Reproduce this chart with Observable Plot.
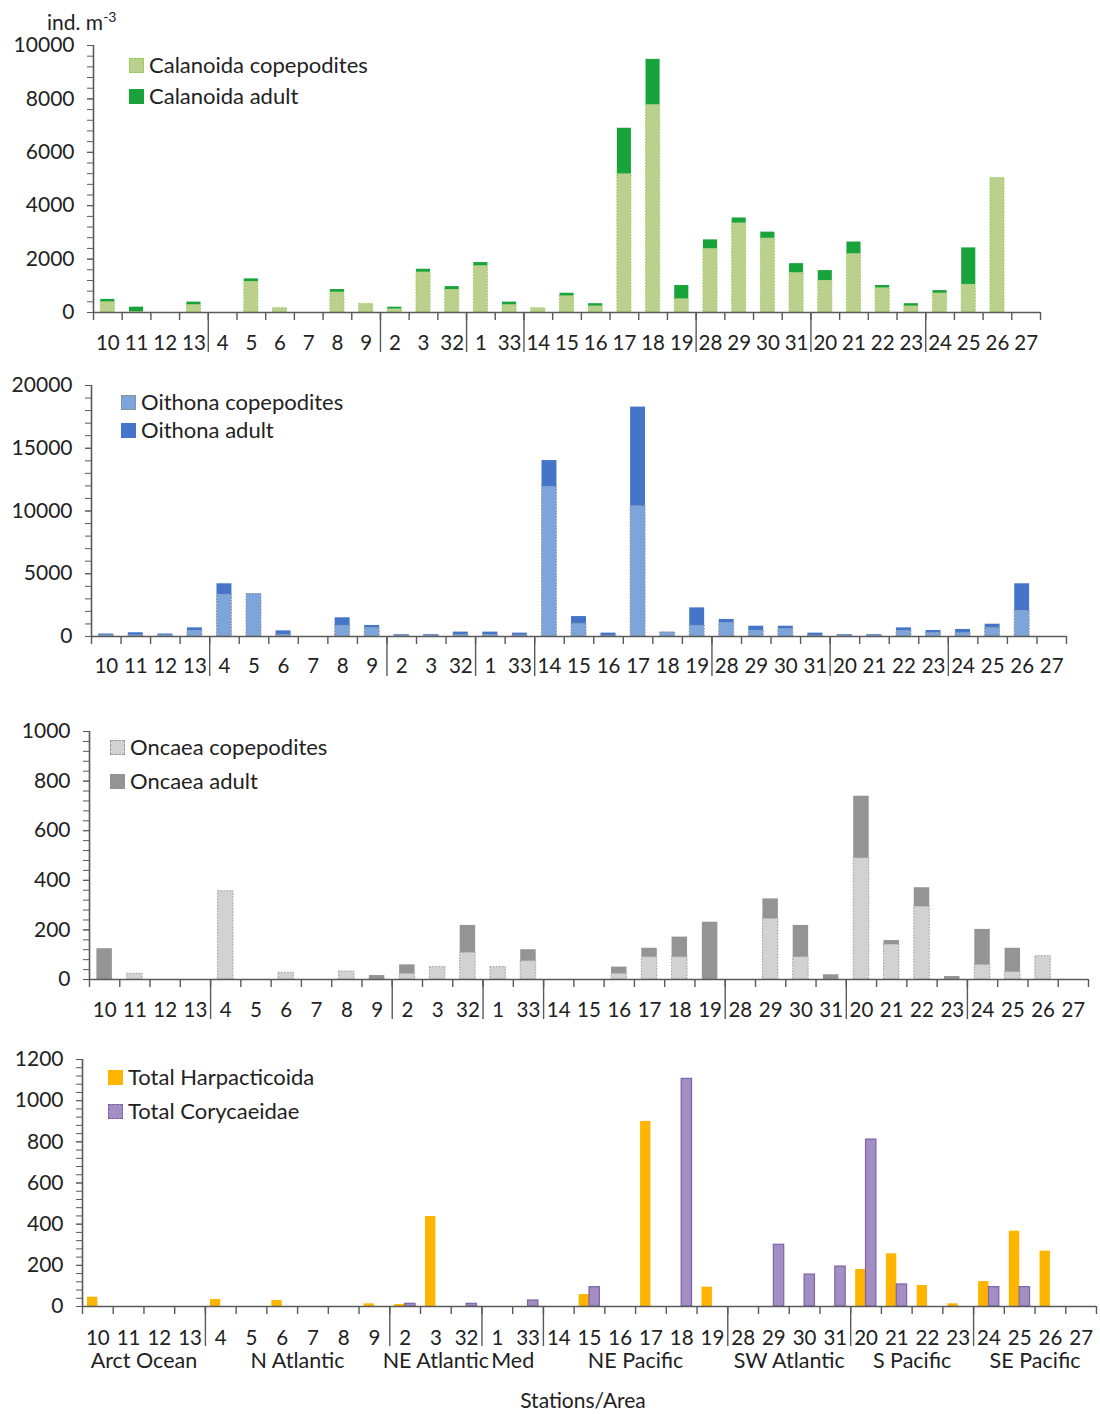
<!DOCTYPE html>
<html><head><meta charset="utf-8">
<script src="https://cdn.jsdelivr.net/npm/d3@7"></script>
<script src="https://cdn.jsdelivr.net/npm/@observablehq/plot@0.6"></script>
<style>
body{margin:0;background:#fff;}
#root{position:relative;width:1100px;height:1414px;font-family:Lato,"Open Sans",sans-serif;color:#222;overflow:hidden;background:#fff;}
.panel{position:absolute;left:0;}
.legend{position:absolute;font-size:22px;line-height:22px;}
.legend .item{display:flex;align-items:center;white-space:nowrap;}
.sw{width:15px;height:15px;box-sizing:border-box;margin-right:5px;flex:none;}
.txt{position:absolute;white-space:nowrap;font-size:21px;}
</style></head><body><div id="root"></div>
<script>
// ---------- DATA ----------
const stations = ["10","11","12","13","4","5","6","7","8","9","2","3","32","1","33","14","15","16","17","18","19","28","29","30","31","20","21","22","23","24","25","26","27"];
const stationArea = ["Arct Ocean","Arct Ocean","Arct Ocean","Arct Ocean",
  "N Atlantic","N Atlantic","N Atlantic","N Atlantic","N Atlantic","N Atlantic",
  "NE Atlantic","NE Atlantic","NE Atlantic","Med","Med",
  "NE Pacific","NE Pacific","NE Pacific","NE Pacific","NE Pacific","NE Pacific",
  "SW Atlantic","SW Atlantic","SW Atlantic","SW Atlantic",
  "S Pacific","S Pacific","S Pacific","S Pacific",
  "SE Pacific","SE Pacific","SE Pacific","SE Pacific"];

const calanoidaCop   = [400,30,0,290, 0,1160,160,0,760,320, 130,1510,860, 1750,290, 160,620,240,5190,7780,510, 2390,3350,2780,1490, 1200,2200,920,240, 720,1050,5040,0];
const calanoidaAdult = [90,170,0,100, 0,100,0,0,100,0, 70,110,110, 120,100, 0,100,90,1710,1700,500, 330,190,230,340, 370,440,90,90, 100,1370,0,0];

const oithonaCop   = [100,100,100,480, 3350,3380,150,0,880,690, 100,100,150, 150,100, 11950,1010,80,10390,300,880, 1090,480,610,80, 100,100,480,290, 290,690,2070,0];
const oithonaAdult = [100,200,100,210, 850,20,300,0,610,190, 50,50,200, 200,170, 2070,580,190,7890,40,1400, 270,340,210,190, 50,50,210,190, 270,290,2130,0];

const oncaeaCop   = [0,23,0,0, 356,0,27,0,32,0, 23,50,108, 50,74, 0,0,23,90,90,0, 0,245,90,0, 489,141,294,0, 59,30,94,0];
const oncaeaAdult = [124,0,0,0, 0,0,0,0,0,16, 36,0,110, 0,46, 0,0,27,36,81,231, 0,80,128,19, 250,16,76,12, 143,96,0,0];

const harpacticoida = [45,0,0,0, 34,0,29,0,0,13, 10,437,0, 0,0, 0,58,0,899,0,94, 0,0,0,0, 180,256,102,13, 121,366,269,0];
const corycaeidae   = [0,0,0,0, 0,0,0,0,0,0, 13,0,13, 0,29, 0,94,0,0,1106,0, 0,300,155,194, 811,107,0,0, 94,94,0,0];

// ---------- HELPERS ----------
const root = document.getElementById("root");
const n = stations.length;
const idx = d3.range(n);
const bounds = d3.range(n + 1);
const seps = idx.filter(i => i > 0 && stationArea[i] !== stationArea[i - 1]);
const areaGroups = [];
idx.forEach(i => {
  const g = areaGroups[areaGroups.length - 1];
  if (g && g.name === stationArea[i]) g.end = i + 1;
  else areaGroups.push({name: stationArea[i], start: i, end: i + 1});
});
const AXIS = "#595959";

function stackedMarks(cop, adult, copFill, copStroke, adultFill, inset) {
  const data = idx.map(i => ({i, cop: cop[i], adult: adult[i]}));
  return [
    Plot.rectY(data.filter(d => d.cop > 0), {x1: "i", x2: d => d.i + 1, y1: 0, y2: "cop",
      fill: copFill, stroke: copStroke, strokeWidth: 1, strokeDasharray: "1.5,1.5", insetLeft: inset, insetRight: inset}),
    Plot.rectY(data.filter(d => d.adult > 0), {x1: "i", x2: d => d.i + 1, y1: "cop", y2: d => d.cop + d.adult,
      fill: adultFill, insetLeft: inset, insetRight: inset})
  ];
}

function panel(cfg) {
  const {top, height, mt, mb, ml, mr, yMax, minor, major, bars, labelPad, areas} = cfg;
  const marks = [
    ...bars,
    Plot.ruleY([0], {stroke: AXIS, strokeWidth: 1.6}),
    Plot.ruleX([0], {y1: 0, y2: yMax, stroke: AXIS, strokeWidth: 1.6}),
    Plot.axisY({ticks: d3.range(0, yMax + 1, minor), tickSize: 6, tickFormat: () => "", stroke: AXIS, label: null}),
    Plot.axisY({ticks: d3.range(0, yMax + 1, major), tickSize: 6, tickPadding: 13, fontSize: 21, stroke: AXIS, fill: "#222", label: null, tickFormat: d => String(d)}),
    Plot.axisX({ticks: bounds, tickSize: 8, tickFormat: () => "", stroke: AXIS, strokeWidth: 1.4, label: null}),
    Plot.axisX({ticks: seps, tickSize: cfg.sepLen, tickFormat: () => "", stroke: AXIS, strokeWidth: 1.4, label: null}),
    Plot.axisX({ticks: idx.map(i => i + 0.5), tickSize: 0, tickPadding: labelPad, fontSize: 20.5, fill: "#222", label: null, tickFormat: v => stations[Math.round(v - 0.5)]})
  ];
  if (areas) {
    marks.push(Plot.axisX({ticks: areaGroups.map(g => (g.start + g.end) / 2), tickSize: 0, tickPadding: areas, fontSize: 21.5, fill: "#222", label: null,
      tickFormat: v => (areaGroups.find(g => (g.start + g.end) / 2 === v) || {}).name}));
  }
  const chart = Plot.plot({
    width: 1100, height, marginTop: mt, marginBottom: mb, marginLeft: ml, marginRight: mr,
    x: {domain: [0, n], axis: null, label: null},
    y: {domain: [0, yMax], axis: null, label: null},
    style: {fontFamily: "Lato, 'Open Sans', sans-serif", fontSize: "20px", color: "#222", background: "transparent", overflow: "visible"},
    marks
  });
  const wrap = document.createElement("div");
  wrap.className = "panel";
  wrap.style.top = top + "px";
  wrap.appendChild(chart);
  root.appendChild(wrap);
}

function legend(left, top, gap, items) {
  const el = document.createElement("div");
  el.className = "legend";
  el.style.left = left + "px";
  el.style.top = top + "px";
  items.forEach((it, k) => {
    const row = document.createElement("div");
    row.className = "item";
    row.style.marginTop = k ? gap + "px" : "0";
    const sw = document.createElement("div");
    sw.className = "sw";
    sw.style.background = it.fill;
    if (it.stroke) sw.style.border = "1px dashed " + it.stroke;
    row.appendChild(sw);
    const t = document.createElement("span");
    t.textContent = it.label;
    row.appendChild(t);
    el.appendChild(row);
  });
  root.appendChild(el);
}

function text(html, left, top, extra) {
  const el = document.createElement("div");
  el.className = "txt";
  el.style.left = left + "px";
  el.style.top = top + "px";
  el.innerHTML = html;
  if (extra) Object.assign(el.style, extra);
  root.appendChild(el);
}

// ---------- PANELS ----------
const C1 = {cop: "#bbd08d", copS: "#93cf58", adult: "#19a33b"};
const C2 = {cop: "#7ea4dc", copS: "#8e8e8e", adult: "#4575c8"};
const C3 = {cop: "#d2d2d2", copS: "#9a9a9a", adult: "#949494"};
const C4 = {harp: "#ffb400", cory: "#a28ec3", coryS: "#7c62a8"};

panel({top: 0, height: 360, mt: 45, mb: 48, ml: 93, mr: 60, yMax: 10000, minor: 400, major: 2000, labelPad: 23, sepLen: 40,
  bars: stackedMarks(calanoidaCop, calanoidaAdult, C1.cop, C1.copS, C1.adult, 7.3)});
panel({top: 365, height: 320, mt: 20, mb: 49, ml: 91, mr: 34, yMax: 20000, minor: 1000, major: 5000, labelPad: 22, sepLen: 40,
  bars: stackedMarks(oithonaCop, oithonaAdult, C2.cop, C2.copS, C2.adult, 7.3)});
panel({top: 710, height: 320, mt: 21, mb: 51, ml: 89, mr: 12, yMax: 1000, minor: 40, major: 200, labelPad: 23, sepLen: 40,
  bars: stackedMarks(oncaeaCop, oncaeaAdult, C3.cop, C3.copS, C3.adult, 7.4)});

const step4 = (1100 - 82 - 4) / n;
const d4 = idx.map(i => ({i, h: harpacticoida[i], c: corycaeidae[i]}));
panel({top: 1040, height: 374, mt: 19, mb: 108, ml: 82, mr: 4, yMax: 1200, minor: 40, major: 200, labelPad: 24, sepLen: 40, areas: 46,
  bars: [
    Plot.rectY(d4.filter(d => d.h > 0), {x1: "i", x2: d => d.i + 1, y1: 0, y2: "h", fill: C4.harp, insetLeft: 5, insetRight: step4 / 2}),
    Plot.rectY(d4.filter(d => d.c > 0), {x1: "i", x2: d => d.i + 1, y1: 0, y2: "c", fill: C4.cory, stroke: C4.coryS, strokeWidth: 1.2, insetLeft: step4 / 2, insetRight: 5})
  ]});

// ---------- LEGENDS & TEXT ----------
legend(129, 54, 9, [
  {label: "Calanoida copepodites", fill: C1.cop, stroke: C1.copS},
  {label: "Calanoida adult", fill: C1.adult}
]);
legend(121, 391, 6, [
  {label: "Oithona copepodites", fill: C2.cop, stroke: C2.copS},
  {label: "Oithona adult", fill: C2.adult}
]);
legend(110, 736, 12, [
  {label: "Oncaea copepodites", fill: C3.cop, stroke: C3.copS},
  {label: "Oncaea adult", fill: C3.adult}
]);
legend(108, 1066, 12, [
  {label: "Total Harpacticoida", fill: C4.harp},
  {label: "Total Corycaeidae", fill: C4.cory, stroke: C4.coryS}
]);

text('ind. m<sup style="font-size:14px;vertical-align:8px;">-3</sup>', 47, 8);
text('Stations/Area', 0, 1387, {width: "1166px", textAlign: "center"});
</script>
</body></html>
